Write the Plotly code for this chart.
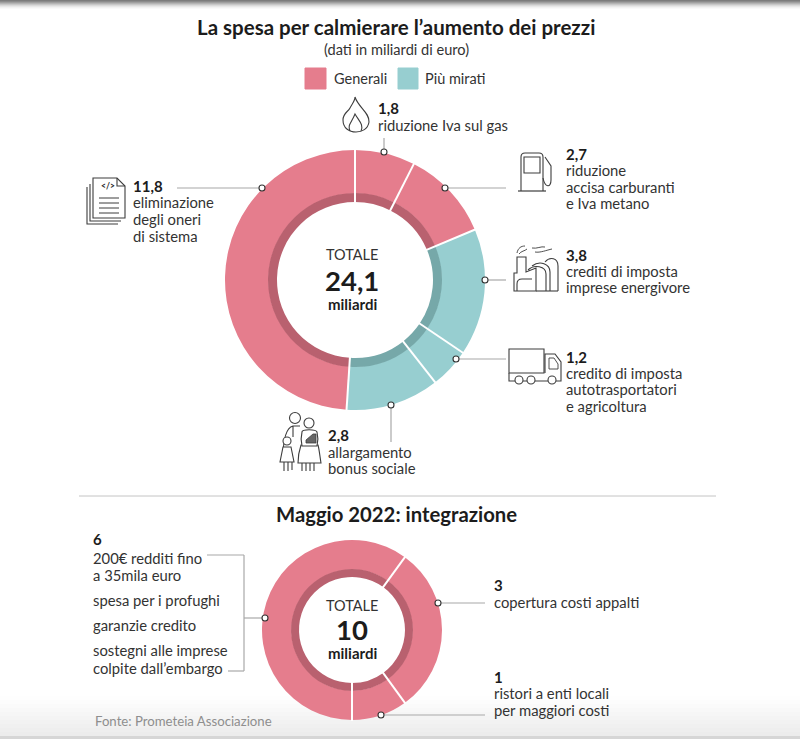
import math
import plotly.graph_objects as go

W, H = 800, 739
FONT = "Lato"
INK = "#1c1c1c"
TXT = "#333333"
ICON = "#3d3d3d"
LEAD = "#a8a8a8"

PINK, PINK_D = "#E57D8D", "#B9616F"
TEAL, TEAL_D = "#97CED0", "#76A8A9"

main_labels = ["riduzione Iva sul gas", "riduzione accisa carburanti e Iva metano",
               "crediti di imposta imprese energivore",
               "credito di imposta autotrasportatori e agricoltura",
               "allargamento bonus sociale", "eliminazione degli oneri di sistema"]
main_values = [1.8, 2.7, 3.8, 1.2, 2.8, 11.8]
main_groups = ["Generali", "Generali", "Più mirati", "Più mirati", "Più mirati", "Generali"]

may_labels = ["copertura costi appalti", "ristori a enti locali per maggiori costi",
              "200€ redditi fino a 35mila euro e altre misure"]
may_values = [3, 1, 6]
may_groups = ["Generali", "Generali", "Generali"]

OUTER = {"Generali": PINK, "Più mirati": TEAL}
INNER = {"Generali": PINK_D, "Più mirati": TEAL_D}


def dom(cx, cy, r):
    return dict(x=[(cx - r) / W, (cx + r) / W], y=[1 - (cy + r) / H, 1 - (cy - r) / H])


def ring(labels, values, colors, cx, cy, r, hole, rot=0):
    return go.Pie(labels=labels, values=values, sort=False, direction="clockwise",
                  rotation=rot, hole=hole, domain=dom(cx, cy, r), textinfo="none",
                  hoverinfo="skip", showlegend=False,
                  marker=dict(colors=colors, line=dict(width=0)))


fig = go.Figure()
fig.add_trace(go.Scatter(x=[], y=[], showlegend=False))
fig.add_trace(ring(main_labels, main_values, [OUTER[g] for g in main_groups], 355, 280, 130, 86.5 / 130))
fig.add_trace(ring(main_labels, main_values, [INNER[g] for g in main_groups], 355, 280, 87, 78 / 87))
fig.add_trace(ring(may_labels, may_values, [OUTER[g] for g in may_groups], 352, 630, 90, 60.5 / 90, 36))
fig.add_trace(ring(may_labels, may_values, [INNER[g] for g in may_groups], 352, 630, 61, 53 / 61, 36))

shapes, annos = [], []


def text(x, y, s, size=14.8, bold=False, color=TXT, anchor="left"):
    annos.append(dict(x=x, y=y, xref="x", yref="y", text=f"<b>{s}</b>" if bold else s,
                      showarrow=False, xanchor=anchor, yanchor="middle",
                      font=dict(family=FONT, size=size, color=INK if bold else color),
                      borderpad=0, borderwidth=0))


def line(x0, y0, x1, y1, color=LEAD, w=1.2, layer="above"):
    shapes.append(dict(type="line", x0=x0, y0=y0, x1=x1, y1=y1, xref="x", yref="y",
                       line=dict(color=color, width=w), layer=layer))


def separators(values, cx, cy, r_in, r_out, rot=0):
    total, cum = sum(values), 0
    for v in values:
        a = math.radians(rot + 360 * cum / total)
        line(cx + r_in * math.sin(a), cy - r_in * math.cos(a),
             cx + r_out * math.sin(a), cy - r_out * math.cos(a), "white", 2)
        cum += v


def dot(x, y, r=3):
    shapes.append(dict(type="circle", x0=x - r, x1=x + r, y0=y - r, y1=y + r, xref="x", yref="y",
                       fillcolor="white", line=dict(color="#333333", width=1.1), layer="above"))


def path(d, fill=None, w=1.1, color=ICON):
    shapes.append(dict(type="path", path=d, xref="x", yref="y", layer="above",
                       line=dict(color=color, width=w),
                       fillcolor=fill if fill else "rgba(0,0,0,0)"))


def ci(x, y, r, w=1.1):
    shapes.append(dict(type="circle", x0=x - r, x1=x + r, y0=y - r, y1=y + r, xref="x", yref="y",
                       fillcolor="white", line=dict(color=ICON, width=w), layer="above"))


def strip(y0, y1, color):
    shapes.append(dict(type="rect", x0=0, x1=W, y0=y0, y1=y1, xref="x", yref="y",
                       fillcolor=color, line=dict(width=0), layer="below"))


# page shading
for y, c in zip(range(0, 9), ["#7d7d7d", "#8c8c8c", "#a0a0a0", "#b4b4b4", "#c8c8c8",
                              "#dadada", "#e8e8e8", "#f3f3f3", "#fafafa"]):
    strip(y, y + 1, c)
for i, y in enumerate(range(696, 736, 4)):
    v = 254 - i * 2
    strip(y, y + 4, f"rgb({v},{v},{v})")
strip(736, 739, "#d6d6d6")

# slice separators
separators(main_values, 355, 280, 77, 131)
separators(may_values, 352, 630, 52, 91, 36)

# headings
text(396, 27, "La spesa per calmierare l’aumento dei prezzi", 20.5, True, anchor="center")
text(396, 49, "(dati in miliardi di euro)", 14.6, anchor="center")
for x0, x1, c in [(305, 326, PINK), (398, 418, TEAL)]:
    shapes.append(dict(type="rect", x0=x0, x1=x1, y0=68, y1=89, xref="x", yref="y",
                       fillcolor=c, line=dict(color=c, width=1), layer="above"))
text(334, 78, "Generali", 14.5)
text(425, 78, "Più mirati", 14.5)

# main centre
text(352, 254, "TOTALE", 14.5, anchor="center")
text(352, 280, "24,1", 27.5, True, anchor="center")
text(352, 304, "miliardi", 15, True, anchor="center")

# main labels
for x, rows in [
    (378, [(108, "1,8", 1), (125, "riduzione Iva sul gas", 0)]),
    (566, [(154, "2,7", 1), (170, "riduzione", 0), (187, "accisa carburanti", 0), (203, "e Iva metano", 0)]),
    (566, [(255, "3,8", 1), (271, "crediti di imposta", 0), (287, "imprese energivore", 0)]),
    (566, [(357, "1,2", 1), (373, "credito di imposta", 0), (389, "autotrasportatori", 0), (406, "e agricoltura", 0)]),
    (328, [(435, "2,8", 1), (452, "allargamento", 0), (468, "bonus sociale", 0)]),
    (133, [(186, "11,8", 1), (202, "eliminazione", 0), (219, "degli oneri", 0), (236, "di sistema", 0)]),
    (93, [(539, "6", 1), (558, "200€ redditi fino", 0), (575, "a 35mila euro", 0), (600, "spesa per i profughi", 0),
          (625, "garanzie credito", 0), (650, "sostegni alle imprese", 0), (668, "colpite dall’embargo", 0)]),
    (494, [(585, "3", 1), (602, "copertura costi appalti", 0)]),
    (494, [(677, "1", 1), (693, "ristori a enti locali", 0), (710, "per maggiori costi", 0)]),
]:
    for y, s, b in rows:
        text(x, y, s, 15 if b else 14.8, bool(b))

# leaders
for a in [(384, 152, 384, 138), (445, 188, 506, 188), (485, 280, 506, 280), (456, 359, 506, 359),
          (391, 405, 391, 442), (262, 188, 177, 188), (438, 603, 485, 603), (381, 715, 485, 715),
          (265, 618, 244, 618), (244, 555, 244, 671), (207, 555, 244, 555), (228, 671, 244, 671)]:
    line(*a)
for p in [(384, 152), (445, 188), (485, 280), (456, 359), (391, 405), (262, 188),
          (265, 618), (438, 603), (381, 715)]:
    dot(*p)

# separator and lower section
line(79, 496, 716, 496, "#c4c4c4", 1)
text(396, 514, "Maggio 2022: integrazione", 20.3, True, anchor="center")
text(352, 605, "TOTALE", 14.5, anchor="center")
text(352, 629, "10", 27.5, True, anchor="center")
text(352, 653, "miliardi", 15, True, anchor="center")
text(95, 721, "Fonte: Prometeia Associazione", 13.2, color="#8e8e8e")

# flame
path("M355,97 C358,107 370,113 369,122 C368,129 362,132 356,132 C349,132 343,128 343,120 "
     "C343,113 348,112 350,108 C352,104 355,101 355,97 Z")
path("M350,131 C347,125 352,122 355,114 C359,121 364,125 361,131")

# documents
path("M87,187 L87,224 L118,224")
path("M90,184 L90,221 L121,221")
path("M93,178 L117,178 L125,186 L125,218 L93,218 Z", "white")
path("M117,178 L117,186 L125,186")
for y in (198, 203, 208, 213):
    line(99, y, 119, y, ICON, 1)
text(108, 186, "&lt;/&gt;", 8.5, True, anchor="center")

# fuel pump
path("M521,191 L521,157 C521,154 523,153 525,153 L539,153 C542,153 543,154 543,157 L543,191")
path("M524,157 L540,157 L540,173 L524,173 Z")
line(518, 191, 546, 191, ICON, 1.2)
path("M543,178 C545,188 551,188 551,180 L551,166 L545,157")

# factory
path("M514,291 L514,273 L517,273 L517,257 L526,257 L526,272 L536,268 L536,291 Z")
path("M517,291 L517,284 C517,280 519,279 522,279 L532,279")
path("M528,270 C534,264 546,266 546,274 L546,291")
path("M532,266 C540,260 550,264 550,272 L550,291")
path("M545,262 C550,256 558,258 558,266 L558,291")
path("M536,291 L558,291")
path("M517,253 C518,248 521,246 525,246 M519,254 C521,251 525,251 527,249 "
     "M532,248 C537,249 541,246 545,247 M535,252 C540,253 547,250 552,249", w=0.9)

# truck
path("M509,373 L509,349 L544,349 L544,373 Z")
path("M509,373 L509,381 L515,381 M523,381 L527,381 M535,381 L548,381 M545,373 L545,354 L555,354 "
     "L561,362 L561,381 L556,381")
path("M549,358 L554,358 L558,364 L558,369 L549,369 Z", w=0.9)
ci(519, 380, 4)
ci(531, 380, 4)
ci(552, 380, 4)

# family
path("M283,459 C283,445 285,428 293,426 L300,426 M293,426 L293,437 M292,455 L292,470", w=1.1)
path("M301,445 C300,448 298,457 298,463 L321,463 C320,457 319,448 318,445 Z "
     "M302,463 L302,471 M306,463 L306,471 M310,463 L310,471 M314,463 L314,471", "white")
path("M302,432 C302,429 316,429 317,432 C318,436 318,442 317,446 L302,446 C301,442 301,436 302,432 Z", "white")
path("M306,440 L313,434 L316,434 L316,443 L306,443 Z", "#666666", 0.8)
ci(295, 418, 5.5)
ci(309, 423, 5)
path("M283,447 L291,447 L294,462 L280,462 Z M284,462 L284,471 M288,462 L288,471", "white")
ci(287, 441, 4)

fig.update_layout(
    width=W, height=H, margin=dict(l=0, r=0, t=0, b=0), autosize=False,
    paper_bgcolor="white", plot_bgcolor="rgba(0,0,0,0)", showlegend=False,
    xaxis=dict(range=[0, W], visible=False, fixedrange=True, domain=[0, 1]),
    yaxis=dict(range=[H, 0], visible=False, fixedrange=True, domain=[0, 1]),
    shapes=shapes, annotations=annos, font=dict(family=FONT),
)
fig.write_html("out.html", config=dict(displayModeBar=False),
               post_script="document.body.style.margin='0';")
